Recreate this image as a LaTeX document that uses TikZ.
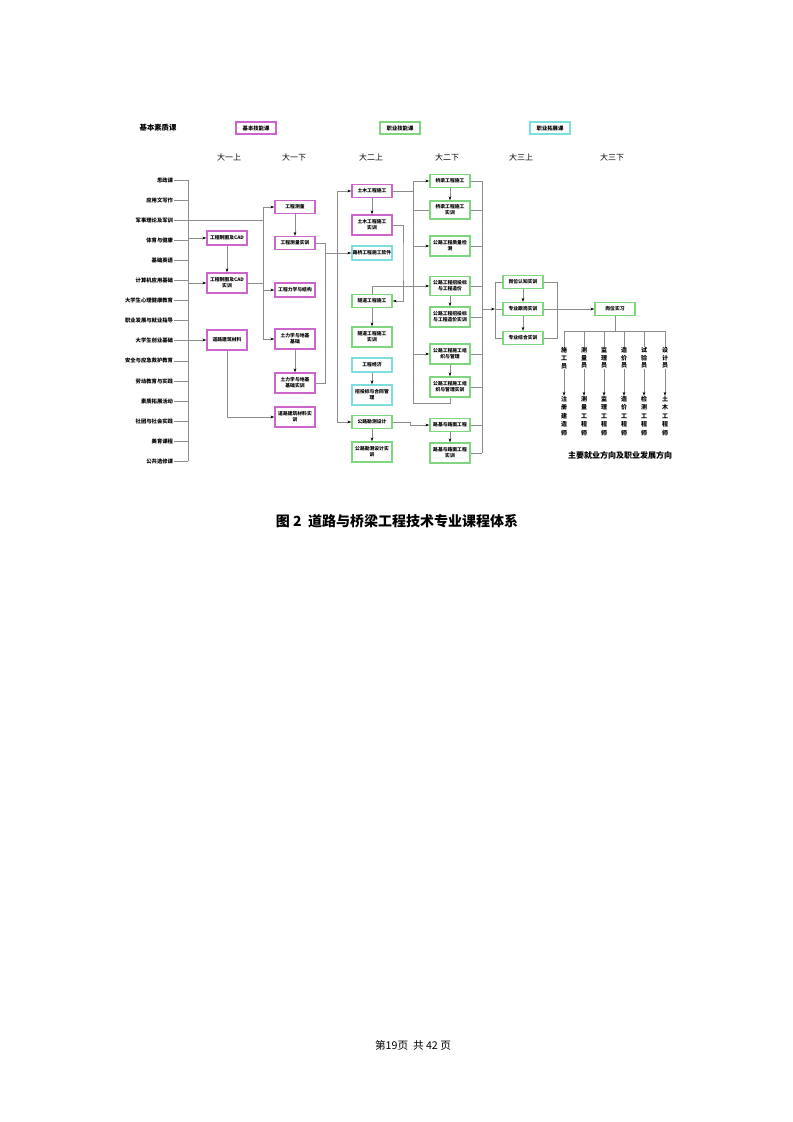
\documentclass[tikz,border=0pt]{standalone}
\usepackage{fontspec}
\setmainfont{Noto Sans CJK SC}
\usetikzlibrary{arrows.meta}
\definecolor{mag}{HTML}{CC66CC}
\definecolor{grn}{HTML}{7ED67E}
\definecolor{cyn}{HTML}{7EDEDE}
\definecolor{lncol}{HTML}{8C8C8C}
\newcommand\bxf{\fontsize{3.6}{4.5}\selectfont\bfseries}
\newcommand\lbf{\fontsize{4}{5}\selectfont\bfseries}
\begin{document}
\begin{tikzpicture}[x=0.75pt,y=-0.75pt,
 box/.style={draw, line width=1pt, inner sep=0pt, minimum width=30pt, align=center, font=\bxf},
 sb/.style={box, minimum height=9.8pt},
 db/.style={box, minimum height=15pt},
 mg/.style={draw=mag}, gr/.style={draw=grn}, cy/.style={draw=cyn},
 ln/.style={draw=lncol, line width=0.55pt},
 arr/.style={ln, -{Stealth[length=3pt,width=2pt,black]}},
 lab/.style={anchor=east, inner sep=0.5pt, font=\lbf},
 hdr/.style={font=\fontsize{6}{7}\selectfont},
 vt/.style={align=center, inner sep=0pt, font=\fontsize{4.5}{5.8}\selectfont\bfseries},
 vtt/.style={align=center, inner sep=0pt, font=\fontsize{4.5}{6.4}\selectfont\bfseries}]
\path[fill=white] (0,0) rectangle (793,1122);

% header and legend
\node[font=\fontsize{5.5}{6}\selectfont\bfseries] (hd) at (158,128) {基本素质课};
\node[box, mg, minimum height=9pt, font=\fontsize{4}{5}\selectfont\bfseries] (lg1) at (256,128) {基本技能课};
\node[box, gr, minimum height=9pt, font=\fontsize{4}{5}\selectfont\bfseries] (lg2) at (400,128) {职业技能课};
\node[box, cy, minimum height=9pt, font=\fontsize{4}{5}\selectfont\bfseries] (lg3) at (550,128) {职业拓展课};
\node[hdr] (y1) at (229,157) {大一上};
\node[hdr] (y2) at (294,157) {大一下};
\node[hdr] (y3) at (371,157) {大二上};
\node[hdr] (y4) at (447,157) {大二下};
\node[hdr] (y5) at (521,157) {大三上};
\node[hdr] (y6) at (612,157) {大三下};

% bus coordinates
\coordinate (busA) at (188,180);
\coordinate (busB) at (263,207);
\coordinate (busC) at (325,243);
\coordinate (busD) at (337,191);
\coordinate (busE) at (413,181);
\coordinate (busE2) at (403,260);
\coordinate (busEb) at (413,403);
\coordinate (jog) at (410,422);
\coordinate (busF) at (482,181);
\coordinate (busG) at (495,309);
\coordinate (busH) at (557,309);
\coordinate (jb) at (615,331);

% left list
\foreach \t [count=\i] in {思政课,应用文写作,军事理论及军训,体育与健康,基础英语,计算机应用基础,大学生心理健康教育,职业发展与就业指导,大学生创业基础,安全与应急救护教育,劳动教育与实践,素质拓展活动,社团与社会实践,美育课程,公共选修课}{
  \node[lab] (l\i) at (174,{180+20.1*(\i-1)}) {\t};
}
\foreach \i in {1,2,4,5,6,7,8,9,10,11,12,13,14,15}{
  \draw[ln] (l\i.east) -- (l\i.east -| busA);
}
\draw[ln] (l1.east -| busA) -- (l15.east -| busA);
\draw[ln] (l3.east) -- (l3.east -| busB);

% year 1 first term
\node[sb, mg, minimum height=10.5pt] (c1) at (227,238) {工程制图及CAD};
\node[db, mg] (c2) at (227,283) {工程制图及CAD\\实训};
\node[db, mg] (c3) at (227,340) {道路建筑材料};
% year 1 second term
\node[sb, mg] (d1) at (295,207) {工程测量};
\node[sb, mg] (d2) at (295,243) {工程测量实训};
\node[sb, mg, minimum height=10.5pt] (d3) at (295,290) {工程力学与结构};
\node[db, mg] (d4) at (295,339) {土力学与地基\\基础};
\node[db, mg] (d5) at (295,383) {土力学与地基\\基础实训};
\node[db, mg] (d6) at (295,417) {道路建筑材料实\\训};
% year 2 first term
\node[sb, mg] (e1) at (372,191) {土木工程施工};
\node[db, mg] (e2) at (372,225) {土木工程施工\\实训};
\node[sb, cy, minimum height=10.5pt] (e3) at (372,253) {路桥工程施工软件};
\node[sb, gr] (e4) at (372,301) {隧道工程施工};
\node[db, gr] (e5) at (372,337) {隧道工程施工\\实训};
\node[sb, cy, minimum height=10.5pt] (e6) at (372,365) {工程经济};
\node[db, cy] (e7) at (372,395) {招投标与合同管\\理};
\node[sb, gr] (e9) at (372,422) {公路勘测设计};
\node[db, gr] (e10) at (372,452) {公路勘测设计实\\训};
% year 2 second term
\node[sb, gr] (f1) at (450,181) {桥梁工程施工};
\node[db, gr, minimum height=13.5pt] (f2) at (450,210) {桥梁工程施工\\实训};
\node[db, gr] (f3) at (450,246) {公路工程质量检\\测};
\node[db, gr, minimum height=14pt] (f4) at (450,286) {公路工程招投标\\与工程造价};
\node[db, gr] (f5) at (450,317) {公路工程招投标\\与工程造价实训};
\node[db, gr] (f6) at (450,354) {公路工程施工组\\织与管理};
\node[db, gr] (f7) at (450,387) {公路工程施工组\\织与管理实训};
\node[sb, gr] (f8) at (450,425) {路基与路面工程};
\node[db, gr] (f9) at (450,453) {路基与路面工程\\实训};
% year 3
\node[sb, gr] (g1) at (523,282) {岗位认知实训};
\node[sb, gr] (g2) at (523,309) {专业跟岗实训};
\node[sb, gr] (g3) at (523,338) {专业综合实训};
\node[sb, gr] (h1) at (615,309) {岗位实习};

% jobs
\node[vt] (j1) at (564,358) {施\\工\\员};
\node[vt] (j2) at (584,358) {测\\量\\员};
\node[vt] (j3) at (604,358) {监\\理\\员};
\node[vt] (j4) at (624,358) {造\\价\\员};
\node[vt] (j5) at (644,358) {试\\验\\员};
\node[vt] (j6) at (665,358) {设\\计\\员};
\node[vtt] (k1) at (564,416) {注\\册\\建\\造\\师};
\node[vtt] (k2) at (584,416) {测\\量\\工\\程\\师};
\node[vtt] (k3) at (604,416) {监\\理\\工\\程\\师};
\node[vtt] (k4) at (624,416) {造\\价\\工\\程\\师};
\node[vtt] (k5) at (644,416) {检\\测\\工\\程\\师};
\node[vtt] (k6) at (665,416) {土\\木\\工\\程\\师};
\node[font=\fontsize{6}{7}\selectfont\bfseries] (foot) at (620,455) {主要就业方向及职业发展方向};

% connectors year 1
\draw[arr] (c1.west -| busA) -- (c1.west);
\draw[arr] (c2.west -| busA) -- (c2.west);
\draw[arr] (c3.west -| busA) -- (c3.west);
\draw[arr] (c1) -- (c2);
\draw[arr] (c3.south) |- (d6.west);
\draw[ln] (c2.east) -- (c2.east -| busB);
\draw[ln] (d1.west -| busB) -- (d4.west -| busB);
\draw[arr] (d1.west -| busB) -- (d1.west);
\draw[arr] (d3.west -| busB) -- (d3.west);
\draw[arr] (d4.west -| busB) -- (d4.west);
\draw[arr] (d1) -- (d2);
\draw[arr] (d4) -- (d5);
\draw[ln] (d2.east) -- (d2.east -| busC) -- (d5.east -| busC) -- (d5.east);
\draw[arr] (e3.west -| busC) -- (e3.west);

% connectors year 2 first term
\draw[ln] (e1.west -| busD) -- (e9.west -| busD);
\draw[arr] (e1.west -| busD) -- (e1.west);
\draw[arr] (e9.west -| busD) -- (e9.west);
\draw[arr] (e1) -- (e2);
\draw[arr] (e4) -- (e5);
\draw[arr] (e6) -- (e7);
\draw[arr] (e9) -- (e10);
\draw[arr] (e2.east) -| (busE2) |- (e4.east);
\draw[arr] (e4.north) |- (f4.west);
\draw[arr] (e9.east) -- (e9.east -| jog) |- (f8.west);

% connectors year 2 second term
\draw[arr] (e1.east) -- (e1.east -| busE) |- (f1.west);
\draw[ln] (e1.east -| busE) -- (busEb) -| (f7.south);
\draw[ln] (f2.west -| busE) -- (f2.west);
\draw[arr] (f3.west -| busE) -- (f3.west);
\draw[arr] (f6.west -| busE) -- (f6.west);
\draw[arr] (f1) -- (f2);
\draw[arr] (f4) -- (f5);
\draw[arr] (f6) -- (f7);
\draw[arr] (f8) -- (f9);
\draw[ln] (f1.east -| busF) -- (f9.east -| busF);
\foreach \n in {f1,f2,f3,f4,f5,f6,f7,f8,f9}{
  \draw[ln] (\n.east) -- (\n.east -| busF);
}

% year 3
\draw[arr] (g2.west -| busF) -- (busG);
\draw[ln] (g1.west) -- (g1.west -| busG) -- (g3.west -| busG) -- (g3.west);
\draw[ln] (busG) -- (g2.west);
\draw[ln] (g1.east) -- (g1.east -| busH) -- (g3.east -| busH) -- (g3.east);
\draw[arr] (g1) -- (g2);
\draw[arr] (g2) -- (g3);
\draw[arr] (g2.east) -- (h1.west);
\draw[ln] (h1.south) -- (jb);
\draw[ln] (j1 |- jb) -- (j6 |- jb);
\foreach \i in {1,...,6}{
  \draw[ln] (j\i |- jb) -- (j\i.north);
  \draw[arr] (j\i.south) -- (k\i.north);
}

% caption and page number
\node[font=\fontsize{10.5}{12}\selectfont\bfseries] (cap) at (397,521) {图 2\ \ 道路与桥梁工程技术专业课程体系};
\node[font=\fontsize{8}{9}\selectfont] (pg) at (413,1045) {第19页\ \ 共 42 页};
\end{tikzpicture}
\end{document}
